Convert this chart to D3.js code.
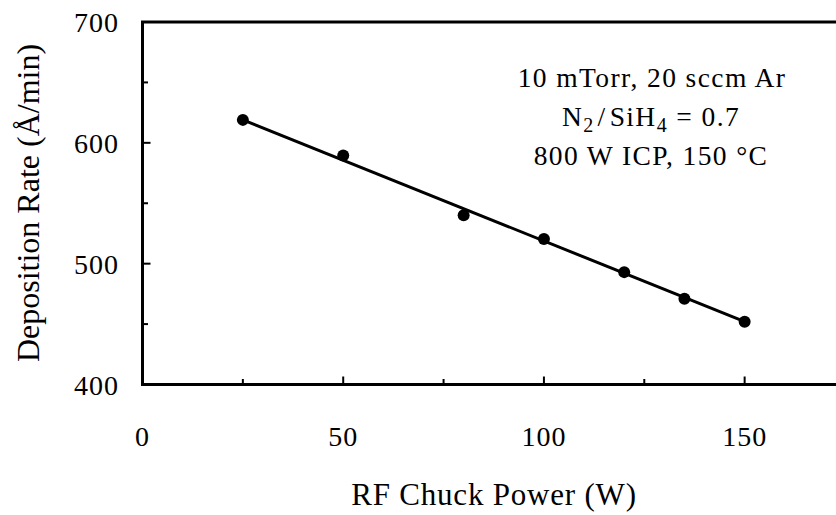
<!DOCTYPE html>
<html>
<head>
<meta charset="utf-8">
<script src="https://cdn.jsdelivr.net/npm/d3@7"></script>
<style>
  html, body { margin: 0; padding: 0; background: #fff; }
  svg { display: block; font-family: "Liberation Serif", "Times New Roman", serif; }
</style>
</head>
<body>
<div id="chart"></div>
<script>
;((d3) => {

    'use strict';

    // measured points
    const power_w = [25, 50, 80, 100, 120, 135, 150];
    const rate_a_per_min = [619, 589.5, 540, 520.5, 493, 471, 452];

    // linear fit, drawn between its end points
    const fit_power = [25, 150];
    const fit_rate = [619, 452];

    const x_ticks = [0, 50, 100, 150];
    const x_minor = [25, 75, 125];
    const y_ticks = [400, 500, 600, 700];
    const y_minor = [450, 550, 650];

    const note_lines = ['10 mTorr, 20 sccm Ar', 'N2/SiH4 = 0.7', '800 W ICP, 150 °C'];

    const width = 836, height = 515;
    const plot = { left: 142.5, right: 845, top: 22, bottom: 384.5 };

    const svg = d3.select('#chart').append('svg')
        .attr('width', width)
        .attr('height', height);

    const x = d3.scaleLinear().domain([0, 175]).range([plot.left, plot.right]);
    const y = d3.scaleLinear().domain([400, 700]).range([plot.bottom, plot.top]);

    // frame
    svg.append('rect')
        .attr('x', plot.left).attr('y', plot.top)
        .attr('width', plot.right - plot.left).attr('height', plot.bottom - plot.top)
        .attr('fill', 'none').attr('stroke', '#000').attr('stroke-width', 3);

    // inward ticks, major longer than minor
    const tick = (vals) => svg.selectAll(null).data(vals).enter().append('line')
        .attr('stroke', '#000').attr('stroke-width', 2);

    tick(x_ticks.filter(d => d > 0))
        .attr('x1', d => x(d)).attr('x2', d => x(d))
        .attr('y1', plot.bottom).attr('y2', plot.bottom - 8);
    tick(x_minor)
        .attr('x1', d => x(d)).attr('x2', d => x(d))
        .attr('y1', plot.bottom).attr('y2', plot.bottom - 5.5);
    tick(y_ticks.filter(d => d > 400 && d < 700))
        .attr('y1', d => y(d)).attr('y2', d => y(d))
        .attr('x1', plot.left).attr('x2', plot.left + 8);
    tick(y_minor)
        .attr('y1', d => y(d)).attr('y2', d => y(d))
        .attr('x1', plot.left).attr('x2', plot.left + 5.5);

    // tick labels
    svg.selectAll('.x-label').data(x_ticks).enter().append('text')
        .attr('class', 'x-label')
        .attr('x', d => x(d)).attr('y', 446)
        .attr('text-anchor', 'middle')
        .attr('font-size', 28).attr('letter-spacing', 1)
        .text(d => d);

    svg.selectAll('.y-label').data(y_ticks).enter().append('text')
        .attr('class', 'y-label')
        .attr('x', 119).attr('y', d => y(d) + 10)
        .attr('text-anchor', 'end')
        .attr('font-size', 28).attr('letter-spacing', 1)
        .text(d => d);

    // axis titles
    svg.append('text')
        .attr('x', 494).attr('y', 505)
        .attr('text-anchor', 'middle')
        .attr('font-size', 31).attr('letter-spacing', 0.8)
        .text('RF Chuck Power (W)');

    svg.append('text')
        .attr('transform', `translate(39, 203) rotate(-90)`)
        .attr('text-anchor', 'middle')
        .attr('font-size', 32)
        .text('Deposition Rate (Å/min)');

    // fit line
    svg.append('path')
        .datum(d3.zip(fit_power, fit_rate))
        .attr('fill', 'none').attr('stroke', '#000').attr('stroke-width', 3)
        .attr('d', d3.line().x(d => x(d[0])).y(d => y(d[1])));

    // points
    svg.selectAll('.pt').data(d3.zip(power_w, rate_a_per_min)).enter().append('circle')
        .attr('class', 'pt')
        .attr('cx', d => x(d[0])).attr('cy', d => y(d[1]))
        .attr('r', 6).attr('fill', '#000');

    // annotation
    const note = svg.append('g')
        .attr('font-size', 27.5).attr('letter-spacing', 1.4)
        .attr('text-anchor', 'middle');

    note.append('text').attr('x', 652).attr('y', 87).text(note_lines[0]);

    const n2 = note.append('text').attr('x', 651).attr('y', 126);
    n2.append('tspan').text('N');
    n2.append('tspan').attr('font-size', 20).attr('dy', 6).text('2');
    n2.append('tspan').attr('dy', -6).attr('dx', 3).text('/');
    n2.append('tspan').attr('dx', 3).text('SiH');
    n2.append('tspan').attr('font-size', 20).attr('dy', 6).text('4');
    n2.append('tspan').attr('dy', -6).text(' = 0.7');

    note.append('text').attr('x', 651).attr('y', 165).text(note_lines[2]);

})(window.d3);
</script>
</body>
</html>
